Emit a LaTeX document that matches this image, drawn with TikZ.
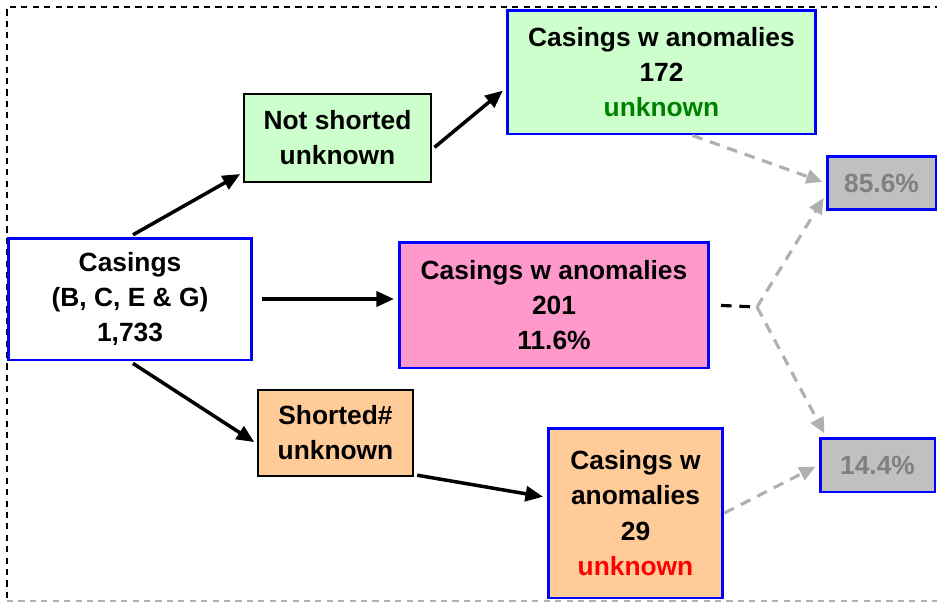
\documentclass[tikz,border=0pt]{standalone}
\usepackage{fontspec}
\setmainfont{Liberation Sans}
\usetikzlibrary{arrows.meta, positioning}

\definecolor{paleGreen}{HTML}{CCFFCC}
\definecolor{pink}{HTML}{FF99CC}
\definecolor{peach}{HTML}{FFCC99}
\definecolor{greyFill}{HTML}{C0C0C0}
\definecolor{greyText}{HTML}{808080}
\definecolor{greyLine}{HTML}{B0B0B0}
\definecolor{darkGreen}{HTML}{008000}

\begin{document}
\begin{tikzpicture}[
            x=0.02cm, y=-0.02cm,
            font=\bfseries\fontsize{15}{20}\selectfont,
            >={Triangle[length=10pt,width=8.5pt]},
            semithick
        ]

        \tikzstyle{every node}=[align=center, inner sep=0pt]
        \tikzstyle{bluebox}=[draw=blue, line width=1.7pt]
        \tikzstyle{blackbox}=[draw=black, line width=0.9pt]
        \tikzstyle{flow}=[->, line width=2pt, shorten <=2pt, shorten >=2pt]
        \tikzstyle{share}=[->, greyLine, line width=1.8pt,
            dash pattern=on 6pt off 4.5pt,
            >={Triangle[length=9pt,width=8pt]},
            shorten >=2pt]

        \useasboundingbox (0,0) rectangle (937,603);

        % dashed frame round the chart
        \draw[line width=1.2pt, dash pattern=on 3.5pt off 3pt] (7,598) -- (7,7) -- (937,7);
        \draw[greyLine, line width=1.2pt, dash pattern=on 3.5pt off 3pt] (7,601) -- (937,601);

        % boxes
        \node[bluebox, fill=white, minimum width=4.88cm, minimum height=2.44cm]
            (casings) at (130,299) {Casings\\(B, C, E \& G)\\1,733};
        \node[blackbox, fill=paleGreen, minimum width=3.74cm, minimum height=1.76cm]
            (notsh) at (337.5,138) {Not shorted\\unknown};
        \node[bluebox, fill=paleGreen, minimum width=6.18cm, minimum height=2.48cm]
            (anomA) at (661.5,72) {Casings w anomalies\\172\\\textcolor{darkGreen}{unknown}};
        \node[bluebox, fill=pink, minimum width=6.2cm, minimum height=2.52cm]
            (anomB) at (554,305) {Casings w anomalies\\201\\11.6\%};
        \node[blackbox, fill=peach, minimum width=3.1cm, minimum height=1.72cm]
            (shorted) at (335.5,433) {Shorted\#\\unknown};
        \node[bluebox, fill=peach, minimum width=3.5cm, minimum height=3.4cm]
            (anomC) at (635.5,513) {Casings w\\anomalies\\29\\\textcolor{red}{unknown}};
        \node[bluebox, fill=greyFill, text=greyText, minimum width=2.18cm, minimum height=1.06cm]
            (pctA) at (881.5,183) {85.6\%};
        \node[bluebox, fill=greyFill, text=greyText, minimum width=2.3cm, minimum height=1.08cm]
            (pctB) at (877.5,465) {14.4\%};
        \coordinate (split) at (757,307);

        % main flow
        \draw[flow] (casings.north) -- (notsh.200);
        \draw[flow] (notsh.-7) -- (anomA.186);
        \draw[flow, shorten <=5pt] (casings.east) -- (casings.east -| anomB.west);
        \draw[flow] (casings.south) -- (shorted.188);
        \draw[flow] (shorted.-28) -- (anomC.170);

        % shares
        \draw[share] ([xshift=0.62cm]anomA.south) -- (pctA.west);
        \draw[line width=1.8pt, dash pattern=on 6pt off 4.5pt, shorten <=6pt]
            (anomB.east) -- (split);
        \draw[share] (split) -- (pctA.192);
        \draw[share] (split) -- (pctB.151);
        \draw[share] (anomC.east) -- (pctB.west);

    \end{tikzpicture}
\end{document}
